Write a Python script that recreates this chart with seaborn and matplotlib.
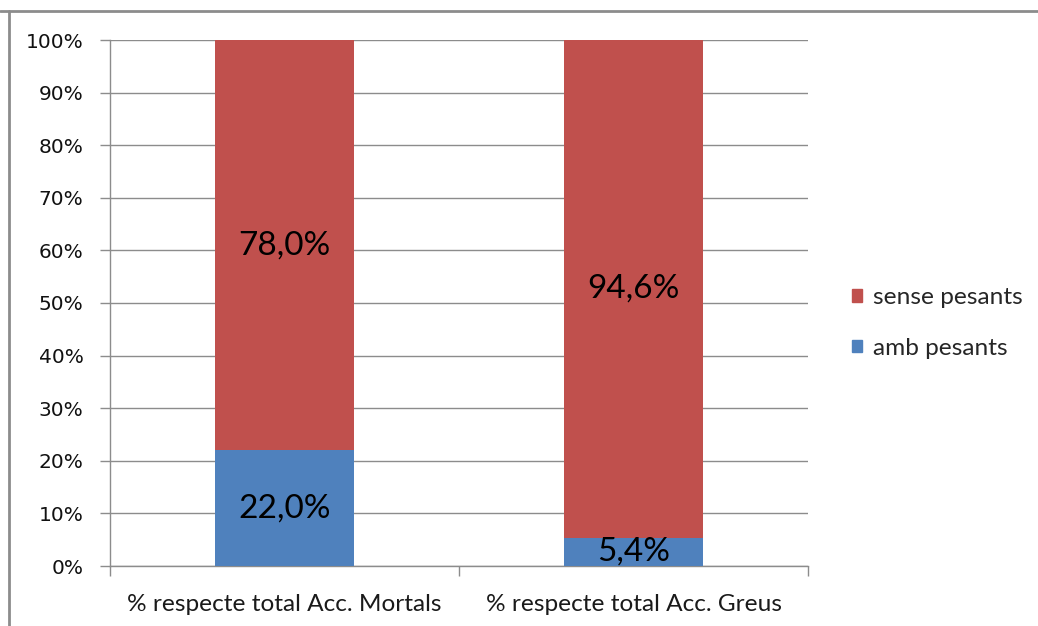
import matplotlib
matplotlib.use("Agg")
import matplotlib.pyplot as plt
import matplotlib.patches as mpatches
import seaborn as sns
import pandas as pd

categories = ["% respecte total Acc. Mortals", "% respecte total Acc. Greus"]
amb_pesants = [22.0, 5.4]
sense_pesants = [78.0, 94.6]
y_ticks = [0, 10, 20, 30, 40, 50, 60, 70, 80, 90, 100]

red = "#C0504D"
blue = "#4F81BD"
grid_grey = "#8C8C8C"

sns.set_theme(style="white")
plt.rcParams["font.family"] = ["DejaVu Sans"]

df = pd.DataFrame({
    "categoria": categories,
    "amb": amb_pesants,
    "sense": sense_pesants,
})
df["total"] = df["amb"] + df["sense"]

fig = plt.figure(figsize=(10.38, 6.26), dpi=100)
ax = fig.add_axes([110 / 1038, 1 - 566 / 626, 698 / 1038, 526 / 626])

# stacked columns: full-height top segment first, lower segment drawn over it
sns.barplot(data=df, x="categoria", y="total", color=red, width=0.4,
            saturation=1, linewidth=0, ax=ax, zorder=3)
sns.barplot(data=df, x="categoria", y="amb", color=blue, width=0.4,
            saturation=1, linewidth=0, ax=ax, zorder=4)

ax.set_xlim(-0.5, 1.5)
ax.set_ylim(0, 100)
ax.set_yticks(y_ticks)
ax.set_yticklabels([f"{v}%" for v in y_ticks])
ax.set_xlabel("")
ax.set_ylabel("")

ax.yaxis.grid(True, color=grid_grey, linewidth=1.0, zorder=0)
ax.set_axisbelow(True)
for s in ["top", "right"]:
    ax.spines[s].set_visible(False)
for s in ["left", "bottom"]:
    ax.spines[s].set_color(grid_grey)
    ax.spines[s].set_linewidth(1.0)

ax.tick_params(axis="y", direction="out", length=7, width=1.0, color=grid_grey,
               labelsize=14.5, pad=12, left=True, labelcolor="#111111")
ax.tick_params(axis="x", which="major", length=0, pad=20)
ax.set_xticks([-0.5, 0.5, 1.5], minor=True)
ax.tick_params(axis="x", which="minor", direction="out", length=7, width=1.0,
               color=grid_grey, bottom=True)
for lab in ax.get_xticklabels():
    lab.set_fontfamily("Lato")
    lab.set_fontsize(17.6)
    lab.set_color("#1a1a1a")

# value labels centred in each segment
for i, (a, s) in enumerate(zip(amb_pesants, sense_pesants)):
    ax.text(i, a / 2, f"{a:.1f}%".replace(".", ","), ha="center", va="center",
            fontsize=24, fontfamily="Lato", color="black", zorder=5)
    ax.text(i, a + s / 2, f"{s:.1f}%".replace(".", ","), ha="center", va="center",
            fontsize=24, fontfamily="Lato", color="black", zorder=5)

handles = [mpatches.Patch(color=red, label="sense pesants"),
           mpatches.Patch(color=blue, label="amb pesants")]
fig.legend(handles=handles, loc="center left", bbox_to_anchor=(852 / 1038, 1 - 323 / 626),
           frameon=False, borderpad=0, borderaxespad=0,
           prop={"family": "Lato", "size": 17.6}, handlelength=0.42,
           handleheight=0.42, handletextpad=0.45, labelspacing=1.2)

# outer chart border
fig.add_artist(plt.Line2D([0, 1], [1 - 11 / 626, 1 - 11 / 626], color="#8C8C8C",
                          linewidth=2.0, transform=fig.transFigure))
fig.add_artist(plt.Line2D([9 / 1038, 9 / 1038], [0, 1 - 11 / 626], color="#8C8C8C",
                          linewidth=2.0, transform=fig.transFigure))

fig.savefig("out.png", dpi=100, facecolor="white")
